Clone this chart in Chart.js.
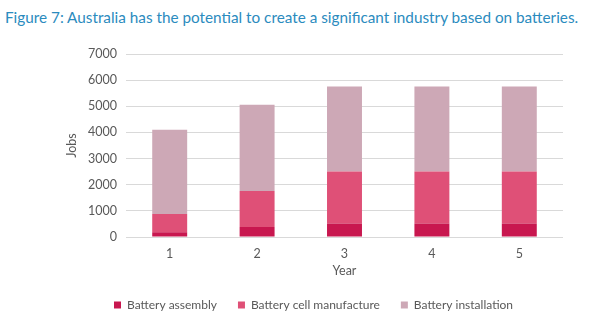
<!DOCTYPE html>
<html>
<head>
<meta charset="utf-8">
<script src="https://cdn.jsdelivr.net/npm/chart.js@4"></script>
<style>
  html, body { margin: 0; padding: 0; background: #fff; }
  #titulo { height: 36px; line-height: 34px; padding-left: 5px; font-family: Lato, "Open Sans", sans-serif;
            font-size: 15.3px; color: #2B8BBE; white-space: nowrap; }
  #wrap { width: 600px; height: 285px; position: relative; }
</style>
</head>
<body>
<div id="titulo">Figure 7: Australia has the potential to create a significant industry based on batteries.</div>
<div id="wrap"><canvas id="myChart"></canvas></div>
<script>
// Dados
const anos = ['1', '2', '3', '4', '5'];
const montagem = [180, 380, 520, 520, 520];
const fabricacaoCelula = [700, 1380, 1990, 1990, 1990];
const instalacao = [3220, 3300, 3250, 3250, 3250];
const ticksY = [0, 1000, 2000, 3000, 4000, 5000, 6000, 7000];

const fonte = 'Lato, "Open Sans", sans-serif';
const cinza = '#595959';

const data = {
    labels: anos,
    datasets: [
        { label: 'Battery assembly', data: montagem, backgroundColor: '#C8174F' },
        { label: 'Battery cell manufacture', data: fabricacaoCelula, backgroundColor: '#DF5077' },
        { label: 'Battery installation', data: instalacao, backgroundColor: '#CDA8B6' }
    ]
};

const config = {
    type: 'bar',
    data: data,
    options: {
        responsive: true,
        maintainAspectRatio: false,
        animation: false,
        datasets: { bar: { categoryPercentage: 1, barPercentage: 0.4 } },
        layout: { padding: { left: 64, right: 37, top: 18, bottom: 0 } },
        plugins: {
            legend: {
                position: 'bottom',
                labels: {
                    boxWidth: 7, boxHeight: 7, padding: 21,
                    color: cinza,
                    font: { family: fonte, size: 12 }
                }
            },
            tooltip: { enabled: false }
        },
        scales: {
            x: {
                stacked: true,
                grid: { display: false },
                border: { display: false },
                ticks: { color: cinza, padding: 1, font: { family: fonte, size: 12.5 } },
                title: { display: true, text: 'Year', color: cinza, font: { family: fonte, size: 12.5 }, padding: { top: 1, bottom: 0 } }
            },
            y: {
                stacked: true,
                min: 0, max: 7000,
                afterBuildTicks: axis => { axis.ticks = ticksY.map(v => ({ value: v })); },
                grid: { color: '#D9D9D9', drawTicks: false },
                border: { display: false },
                ticks: { color: cinza, padding: 9, callback: v => String(v), font: { family: fonte, size: 12.5 } },
                title: { display: true, text: 'Jobs', color: cinza, font: { family: fonte, size: 12.5 }, padding: 0 }
            }
        }
    }
};

new Chart(document.getElementById('myChart'), config);
</script>
</body>
</html>
